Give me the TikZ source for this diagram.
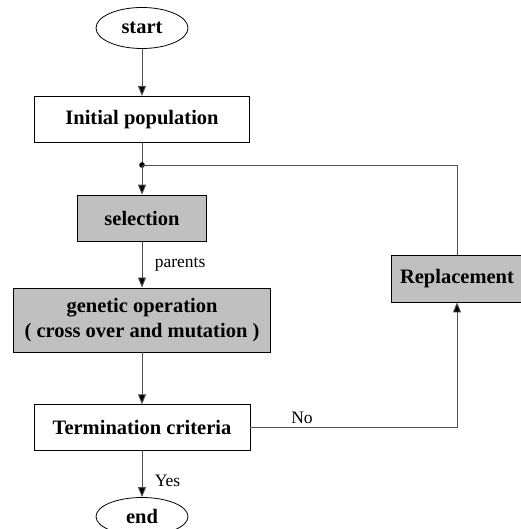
\documentclass[tikz,border=0pt]{standalone}
\usepackage{fontspec}
\setmainfont{Liberation Serif}
\usepackage{tikz}
\usetikzlibrary{positioning,arrows.meta,shapes.geometric,calc}
\definecolor{boxgray}{RGB}{192,192,192}
\definecolor{linegray}{RGB}{80,80,80}

\begin{document}
\begin{tikzpicture}[
  x=1pt, y=-1pt,
  terminal/.style={ellipse, draw, line width=0.8pt, inner sep=0pt, minimum width=92pt, minimum height=41pt, font=\fontsize{20.5}{23}\selectfont\bfseries},
  block/.style={rectangle, draw, line width=0.8pt, fill=white, inner sep=0pt, minimum height=46pt, align=center, font=\fontsize{20.5}{25}\selectfont\bfseries},
  opblock/.style={block, fill=boxgray},
  arrow/.style={-{Triangle[length=10pt,width=8pt,fill=black]}, draw=linegray, line width=0.9pt},
  lbl/.style={font=\fontsize{17.5}{19}\selectfont}
]
  \useasboundingbox (0,0) rectangle (520,529);
  % Nodes
  \node[terminal] (start) at (142,28) {start};
  \node[block, minimum width=215pt, below=47pt of start] (init) {Initial population};
  \node[opblock, minimum width=129pt, below=52pt of init] (sel) {selection};
  \node[opblock, minimum width=257pt, minimum height=64pt, below=46pt of sel] (gen) {genetic operation\\( cross over and mutation )};
  \node[block, minimum width=216pt, below=52pt of gen] (term) {Termination criteria};
  \node[terminal, minimum height=38pt, below=46pt of term] (end) {end};
  \node[opblock, minimum width=132pt, minimum height=47pt] (repl) at (457,278.5) {Replacement};
  \coordinate (join) at (142,165);

  % Arrows
  \draw[arrow] (start) -- (init);
  \draw[draw=linegray, line width=0.9pt] (init) -- (join);
  \fill (join) circle (2.8pt);
  \draw[arrow] (join) -- (sel);
  \draw[arrow] (sel) -- node[lbl, right=9pt] {parents} (gen);
  \draw[arrow] (gen) -- (term);
  \draw[arrow] (term) -- node[lbl, right=9pt, pos=0.65] {Yes} (end);
  \draw[arrow] (term.east) -- node[lbl, above=0pt, pos=0.25] {No} (term.east -| repl.south) -- (repl.south);
  \draw[draw=linegray, line width=0.9pt] (repl.north) |- (join);
\end{tikzpicture}
\end{document}
